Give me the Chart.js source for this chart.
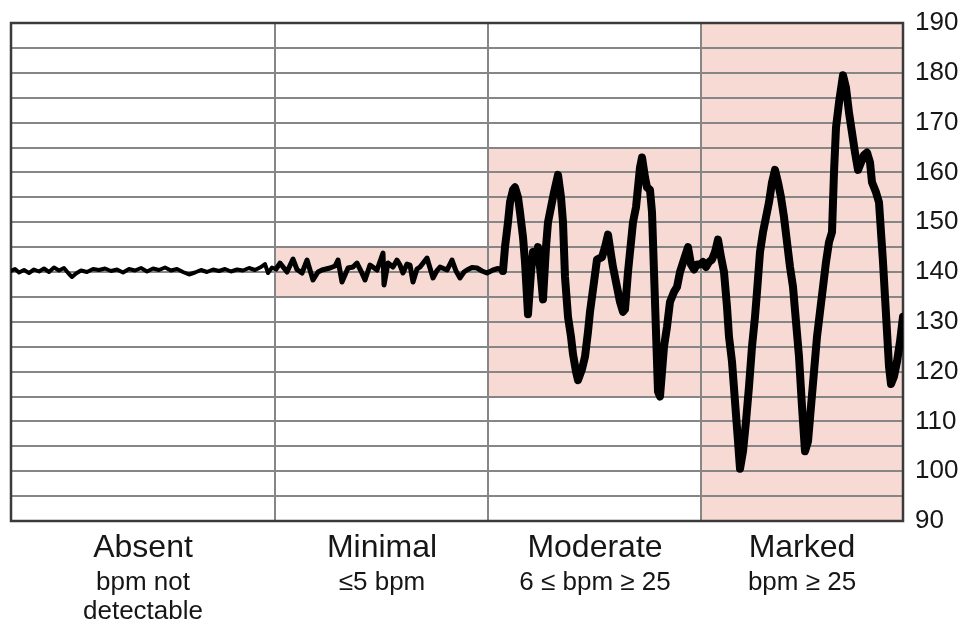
<!DOCTYPE html>
<html>
<head>
<meta charset="utf-8">
<script src="https://cdn.jsdelivr.net/npm/chart.js@4"></script>
<style>
  html, body { margin: 0; padding: 0; background: #fff; }
  #wrap { width: 963px; height: 626px; position: relative; }
</style>
</head>
<body>
<div id="wrap"><canvas id="fhrChart"></canvas></div>
<script>
// time axis is in arbitrary units across the strip (0 .. 892)
const timeMin = 0;
const timeMax = 892;

// where the sections split, and their centres for the labels
const sectionDividers = [264, 477, 690];
const sectionCenters = [132, 371, 584, 791];
const sectionNames = ['Absent', 'Minimal', 'Moderate', 'Marked'];
const sectionNotes = [['bpm not', 'detectable'], ['≤5 bpm'], ['6 ≤ bpm ≥ 25'], ['bpm ≥ 25']];

// shaded amplitude bands for each section
const bandFrom = [264, 477, 690];
const bandTo = [477, 690, 892];
const bandLow = [135, 115, 90];
const bandHigh = [145, 165, 190];

// y axis
const bpmMin = 90;
const bpmMax = 190;
const bpmStep = 5;

// fetal heart rate trace
const traceTime = [
  0, 4, 8, 13, 18, 23, 28, 33, 38, 43, 48, 53, 58, 61, 65, 70, 76, 82, 88, 94,
  100, 106, 112, 118, 124, 130, 136, 142, 148, 154, 160, 166, 172, 178, 184, 190, 196, 202, 208, 214,
  220, 226, 232, 238, 244, 250, 254, 257, 261, 265,
  269, 276, 282, 286, 291, 296, 302, 307, 311, 319, 324, 327, 331, 337, 342, 346, 350, 354, 359, 366,
  372, 373, 377, 382, 386, 389, 392, 396, 399, 402, 406, 409, 416, 422, 426, 429, 436, 441, 445, 449,
  453, 456, 461, 466, 471, 476, 482, 487, 492,
  494, 497, 499, 502, 504, 507, 509, 512, 514, 517, 520, 522, 525, 527, 530, 532, 535, 537, 540, 543,
  547, 550, 552, 554, 557, 560, 562, 565, 567, 571, 574, 577, 579, 583, 586, 591, 594, 597, 600, 602,
  606, 609, 612, 614, 617, 620, 622, 625, 627, 629, 631, 634, 636, 639, 641, 643, 645, 647, 649, 651,
  653, 656, 659, 663, 666, 669, 673, 677, 680, 683, 686, 689,
  692, 695, 698, 701, 704, 707, 710, 713, 716, 718, 721, 724, 727, 729, 732, 735, 738, 741, 744, 746,
  749, 752, 755, 758, 761, 764, 767, 770, 773, 776, 779, 782, 785, 788, 791, 794, 797, 800, 803, 806,
  809, 812, 815, 818, 821, 823, 825, 828, 832, 835, 838, 841, 844, 847, 850, 853, 856, 859, 861, 865,
  868, 870, 872, 874, 876, 878, 880, 883, 886, 889, 892
];
const traceBpm = [
  140.2, 140.6, 139.9, 140.4, 139.8, 140.5, 140.1, 140.7, 140.0, 140.9, 140.3, 140.8, 139.6, 139.0, 139.7, 140.3, 140.0, 140.6, 140.4, 140.7,
  140.2, 140.5, 139.9, 140.6, 140.3, 140.8, 140.1, 140.7, 140.4, 140.9, 140.3, 140.6, 140.0, 139.5, 139.9, 140.4, 140.0, 140.5, 140.2, 140.6,
  140.1, 140.5, 140.3, 140.8, 140.4, 141.0, 141.6, 139.8, 140.9, 140.6,
  141.8, 140.0, 142.6, 140.5, 139.8, 142.4, 138.4, 140.0, 140.4, 140.8, 141.2, 142.4, 138.0, 140.8, 141.0, 141.8, 140.2, 138.4, 141.4, 140.4,
  143.8, 137.4, 141.8, 141.0, 142.4, 141.4, 139.8, 141.6, 141.4, 138.0, 140.6, 141.0, 142.8, 138.8, 140.3, 141.0, 140.4, 142.4, 140.2, 138.8,
  140.0, 140.4, 140.9, 140.8, 140.2, 139.8, 140.4, 140.7, 140.2,
  145, 150, 154, 156.5, 157, 155, 152, 147, 142, 131.5, 140, 144, 143, 145, 139, 134.5, 145, 150, 153, 156,
  159.5, 155, 150, 139, 131, 127, 123.5, 120, 118.3, 120.5, 123, 128, 132, 138, 142.5, 143, 145, 147.5, 143.5, 141,
  137, 134, 132, 132.5, 140, 146, 150, 153, 157, 161, 163, 159, 157, 156.5, 152, 140, 128, 116, 115, 120,
  125, 129, 134, 136, 137, 140, 142.5, 145, 141.5, 140.5, 141.5, 141.5,
  142, 141, 142, 142.5, 144, 146.5, 143, 140, 133, 127, 122, 114, 106, 100.5, 104, 110, 117, 125, 131, 136,
  144, 148, 151, 154, 158, 160.5, 158, 155, 151, 146, 141, 137, 130, 123, 113, 104, 106, 113, 120, 127,
  132, 137, 142, 146, 148, 160, 169, 174, 179.5, 177, 172, 168, 164, 160.5, 162, 163.5, 164, 162, 158, 156,
  154, 148, 142, 135, 128, 121, 117.5, 119, 122, 126, 131
];

const fontFamily = "'Liberation Sans', Arial, Helvetica, sans-serif";

const points = traceTime.map((t, i) => ({ x: t, y: traceBpm[i] }));

// pink bands go under the grid, frame goes under the trace
const bandPlugin = {
  id: 'bands',
  beforeDraw(chart) {
    const { ctx, scales } = chart;
    ctx.save();
    ctx.fillStyle = '#f6dad3';
    for (let i = 0; i < bandFrom.length; i++) {
      const x1 = scales.x.getPixelForValue(bandFrom[i]);
      const x2 = scales.x.getPixelForValue(bandTo[i]);
      const y1 = scales.y.getPixelForValue(bandHigh[i]);
      const y2 = scales.y.getPixelForValue(bandLow[i]);
      ctx.fillRect(x1, y1, x2 - x1, y2 - y1);
    }
    ctx.restore();
  },
  beforeDatasetsDraw(chart) {
    const { ctx, chartArea } = chart;
    ctx.save();
    ctx.strokeStyle = '#3a3a3a';
    ctx.lineWidth = 2.5;
    ctx.strokeRect(chartArea.left, chartArea.top, chartArea.right - chartArea.left, chartArea.bottom - chartArea.top);
    ctx.restore();
  }
};

function labelAxis(weight, labels, size, lineHeight, pad, height) {
  return {
    type: 'linear',
    position: 'bottom',
    weight: weight,
    min: timeMin,
    max: timeMax,
    afterBuildTicks: scale => { scale.ticks = sectionCenters.map(v => ({ value: v })); },
    afterFit: scale => { scale.height = height; },
    grid: { display: false, drawTicks: false },
    border: { display: false },
    ticks: {
      autoSkip: false,
      maxRotation: 0,
      minRotation: 0,
      padding: pad,
      color: '#161616',
      font: { family: fontFamily, size: size, lineHeight: lineHeight },
      callback: (v, i) => labels[i]
    }
  };
}

new Chart(document.getElementById('fhrChart'), {
  type: 'line',
  data: {
    datasets: [{
      data: points,
      borderColor: '#000',
      borderWidth: 6,
      pointRadius: 0,
      tension: 0,
      borderJoinStyle: 'round',
      borderCapStyle: 'round',
      segment: {
        borderWidth: c => c.p0.parsed.x < sectionDividers[0] ? 4 : (c.p0.parsed.x < 492 ? 5 : 8)
      }
    }]
  },
  options: {
    responsive: true,
    maintainAspectRatio: false,
    animation: false,
    layout: { padding: { left: 11, top: 23, right: 5, bottom: 0 } },
    plugins: { legend: { display: false }, tooltip: { enabled: false } },
    scales: {
      x: {
        type: 'linear',
        position: 'bottom',
        weight: 0,
        min: timeMin,
        max: timeMax,
        afterBuildTicks: scale => { scale.ticks = sectionDividers.map(v => ({ value: v })); },
        afterFit: scale => { scale.height = 0; },
        grid: { color: '#868686', lineWidth: 2, drawTicks: false },
        border: { display: false },
        ticks: { display: false }
      },
      xName: labelAxis(1, sectionNames, 32, 1.2, 8, 42),
      xNote: labelAxis(2, sectionNotes, 26, 1.1, 6, 63),
      y: {
        position: 'right',
        min: bpmMin,
        max: bpmMax,
        afterFit: scale => { scale.width = 55; },
        grid: { color: '#868686', lineWidth: 2, drawTicks: false },
        border: { display: false },
        ticks: {
          stepSize: bpmStep,
          autoSkip: false,
          padding: 12,
          color: '#161616',
          font: { family: fontFamily, size: 26, lineHeight: 0.6 },
          callback: v => (v % 10 === 0 ? v : '')
        }
      }
    }
  },
  plugins: [bandPlugin]
});
</script>
</body>
</html>
